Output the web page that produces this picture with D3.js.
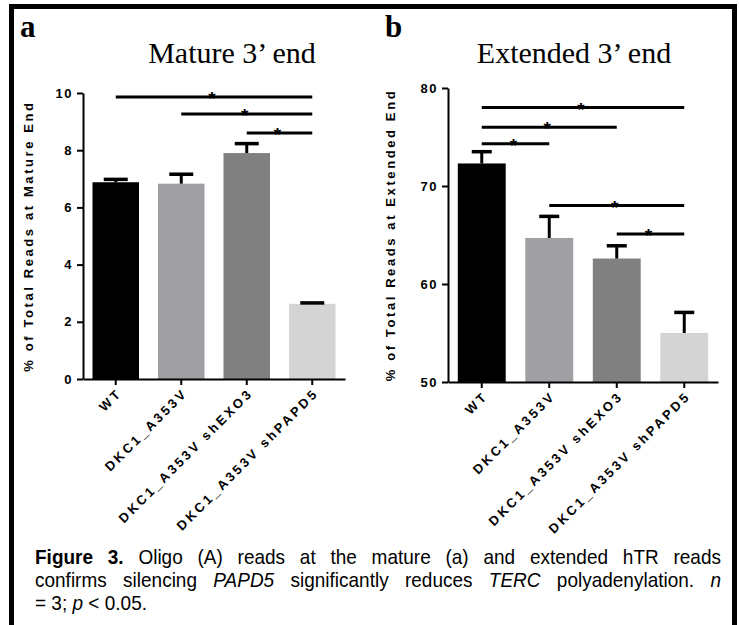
<!DOCTYPE html>
<html>
<head>
<meta charset="utf-8">
<script src="https://cdn.jsdelivr.net/npm/d3@7"></script>
<style>
  html, body { margin: 0; padding: 0; background: #fff; }
  svg { display: block; }
</style>
</head>
<body>
<svg id="chart" width="739" height="625"></svg>
<script>
// ---------------- data ----------------
const categories = ["WT", "DKC1_A353V", "DKC1_A353V shEXO3", "DKC1_A353V shPAPD5"];
const barColors = ["#000000", "#a0a0a4", "#808080", "#d4d4d4"];

const matureMeans = [6.88, 6.83, 7.90, 2.63];
const matureErrors = [0.10, 0.33, 0.33, 0.03];
const matureTicks = [0, 2, 4, 6, 8, 10];
// [from index, to index, height]
const matureSig = [[0, 3, 9.86], [1, 3, 9.27], [2, 3, 8.60]];

const extendedMeans = [72.3, 64.7, 62.6, 55.0];
const extendedErrors = [1.2, 2.2, 1.3, 2.1];
const extendedTicks = [50, 60, 70, 80];
const extendedSig = [[0, 3, 78.0], [0, 2, 76.0], [0, 1, 74.3], [1, 3, 68.0], [2, 3, 65.1]];

const captionLines = [
  [["Figure", "b"], ["3.", "b"], ["Oligo"], ["(A)"], ["reads"], ["at"], ["the"], ["mature"], ["(a)"], ["and"], ["extended"], ["hTR"], ["reads"]],
  [["confirms"], ["silencing"], ["PAPD5", "i"], ["significantly"], ["reduces"], ["TERC", "i"], ["polyadenylation."], ["n", "i"]],
  [["=\u00a03;\u00a0"], ["p", "i"], ["\u00a0<\u00a00.05."]]
];

// ---------------- layout ----------------
const svg = d3.select("#chart");
const SANS = "'Liberation Sans', Arial, Helvetica, sans-serif";
const SERIF = "'Liberation Serif', 'Times New Roman', serif";

svg.append("rect").attr("x", 11.5).attr("y", 6.5).attr("width", 723).attr("height", 700)
  .attr("fill", "none").attr("stroke", "#000").attr("stroke-width", 5);

const panels = [
  { tag: "a", title: "Mature 3\u2019 end", ylabel: "% of Total Reads at Mature End",
    means: matureMeans, errs: matureErrors, ticks: matureTicks, domain: [0, 10], sig: matureSig,
    x0: 83, x1: 345, yTop: 93, yBot: 379, titleX: 232, tagX: 20, ylabX: 33, cap: 24 },
  { tag: "b", title: "Extended 3\u2019 end", ylabel: "% of Total Reads at Extended End",
    means: extendedMeans, errs: extendedErrors, ticks: extendedTicks, domain: [50, 80], sig: extendedSig,
    x0: 448, x1: 718, yTop: 88, yBot: 382, titleX: 574, tagX: 385, ylabX: 395, cap: 20 }
];

panels.forEach(p => {
  const g = svg.append("g");
  const x = d3.scaleBand().domain(categories).range([p.x0, p.x1])
    .paddingInner(0.29).paddingOuter(0.145);
  const y = d3.scaleLinear().domain(p.domain).range([p.yBot, p.yTop]);

  // panel tag and title
  g.append("text").attr("x", p.tagX).attr("y", 37)
    .attr("font-family", SERIF).attr("font-weight", "bold").attr("font-size", 31)
    .text(p.tag);
  g.append("text").attr("x", p.titleX).attr("y", 63).attr("text-anchor", "middle")
    .attr("font-family", SERIF).attr("font-size", 30).text(p.title);

  // bars
  g.selectAll("rect.bar").data(p.means).join("rect").attr("class", "bar")
    .attr("x", (d, i) => x(categories[i]))
    .attr("width", x.bandwidth())
    .attr("y", d => y(d))
    .attr("height", d => y(p.domain[0]) - y(d))
    .attr("fill", (d, i) => barColors[i]);

  // error bars (upper only)
  p.means.forEach((m, i) => {
    const cx = x(categories[i]) + x.bandwidth() / 2;
    g.append("line").attr("x1", cx).attr("x2", cx)
      .attr("y1", y(m)).attr("y2", y(m + p.errs[i]))
      .attr("stroke", "#000").attr("stroke-width", 3);
    g.append("line").attr("x1", cx - p.cap / 2).attr("x2", cx + p.cap / 2)
      .attr("y1", y(m + p.errs[i])).attr("y2", y(m + p.errs[i]))
      .attr("stroke", "#000").attr("stroke-width", 3.5);
  });

  // y axis
  const yAxis = g.append("g").attr("transform", `translate(${p.x0},0)`)
    .call(d3.axisLeft(y).tickValues(p.ticks).tickSize(6).tickSizeOuter(0).tickPadding(4));
  // x axis
  const xAxis = g.append("g").attr("transform", `translate(0,${p.yBot})`)
    .call(d3.axisBottom(x).tickSize(6).tickSizeOuter(0).tickFormat(""));
  [yAxis, xAxis].forEach(a => {
    a.attr("font-family", SANS).attr("font-size", 13);
    a.select(".domain").attr("stroke", "#000").attr("stroke-width", 2);
    a.selectAll(".tick line").attr("stroke", "#000").attr("stroke-width", 2);
  });
  yAxis.selectAll(".tick text").attr("font-family", SANS).attr("font-weight", "bold")
    .attr("font-size", 13).attr("letter-spacing", "1.5px").attr("fill", "#000");

  // x labels rotated
  categories.forEach((c, i) => {
    const cx = x(c) + x.bandwidth() / 2;
    g.append("text")
      .attr("transform", `translate(${cx + 7},${p.yBot + 15}) rotate(-45)`)
      .attr("text-anchor", "end")
      .attr("font-family", SANS).attr("font-weight", "bold").attr("font-size", 13)
      .attr("letter-spacing", "2.8px").text(c);
  });

  // y label
  g.append("text")
    .attr("transform", `translate(${p.ylabX},${(p.yTop + p.yBot) / 2}) rotate(-90)`)
    .attr("text-anchor", "middle")
    .attr("font-family", SANS).attr("font-weight", "bold").attr("font-size", 13)
    .attr("letter-spacing", "2.6px").text(p.ylabel);

  // significance lines
  p.sig.forEach(([a, b, h]) => {
    const xa = x(categories[a]) + x.bandwidth() / 2;
    const xb = x(categories[b]) + x.bandwidth() / 2;
    g.append("line").attr("x1", xa).attr("x2", xb).attr("y1", y(h)).attr("y2", y(h))
      .attr("stroke", "#000").attr("stroke-width", 3);
    g.append("text").attr("x", (xa + xb) / 2 - 2).attr("y", y(h) + 8)
      .attr("text-anchor", "middle").attr("font-family", SANS).attr("font-weight", "bold")
      .attr("font-size", 19).text("*");
  });
});

// ---------------- caption (justified lines) ----------------
const capLeft = 35, capRight = 721, capBase = [564, 587, 610], capSize = 20, squeeze = 0.95;
captionLines.forEach((words, li) => {
  const els = words.map(([w, s]) => svg.append("text")
    .attr("font-family", SANS)
    .attr("font-size", capSize)
    .attr("font-weight", s === "b" ? "bold" : "normal")
    .attr("font-style", s === "i" ? "italic" : "normal")
    .text(w));
  const widths = els.map(e => e.node().getComputedTextLength() * squeeze);
  const total = d3.sum(widths);
  const justify = li < 2;
  const gap = justify ? (capRight - capLeft - total) / (els.length - 1) : 0;
  let cx = capLeft;
  els.forEach((e, i) => {
    e.attr("transform", `translate(${cx},${capBase[li]}) scale(${squeeze},1)`);
    cx += widths[i] + gap;
  });
});
</script>
</body>
</html>
